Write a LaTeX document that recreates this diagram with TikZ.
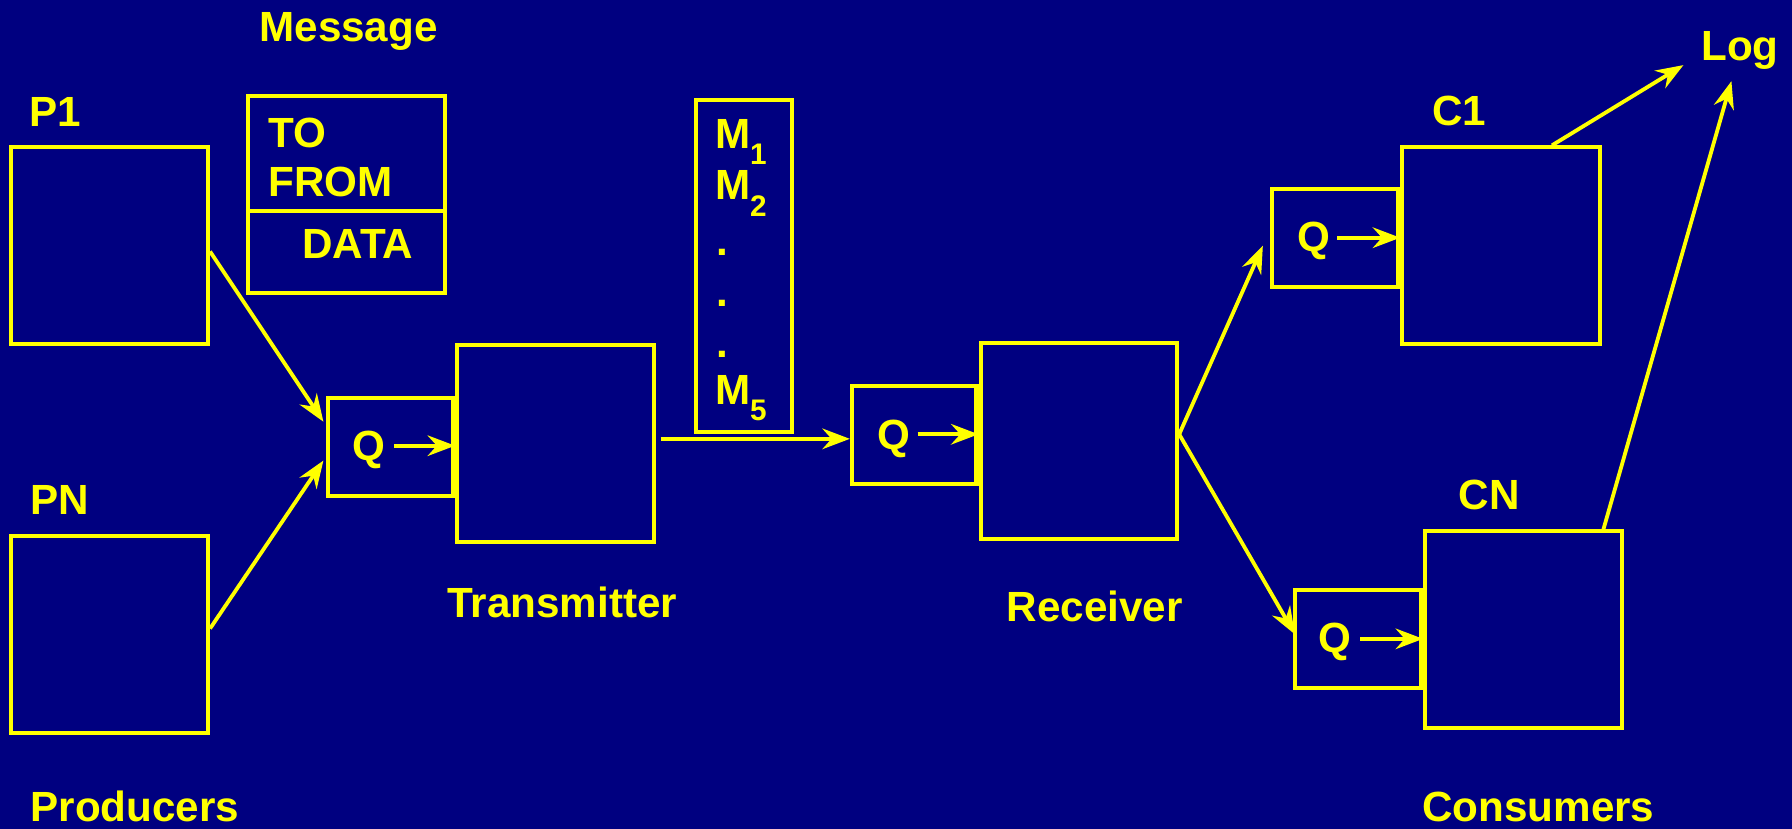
\documentclass[tikz,border=0pt]{standalone}
\usepackage{fontspec}
\setmainfont{Liberation Sans}
\usetikzlibrary{arrows.meta}
\definecolor{bg}{HTML}{000080}
\definecolor{yl}{HTML}{FFFF00}
\newcommand{\subn}[1]{\raisebox{-4pt}{\fontsize{7.4}{8}\selectfont #1}}
\begin{document}
\begin{tikzpicture}[x=0.01cm,y=-0.01cm,
  box/.style={draw=yl,line width=1pt,minimum width=1.72cm,minimum height=1.72cm,inner sep=0pt},
  qbox/.style={draw=yl,line width=1pt,minimum width=1.09cm,minimum height=0.86cm,inner sep=0pt},
  lbl/.style={text=yl,font=\fontsize{10.5}{12.5}\selectfont\bfseries,inner sep=0pt,anchor=base},
  arr/.style={draw=yl,line width=0.95pt,-{Stealth[length=0.24cm,width=0.18cm,inset=0.08cm]}},
  ln/.style={draw=yl,line width=1pt}]
\fill[bg] (0,0) rectangle (1568,725);
\useasboundingbox (0,0) rectangle (1568,725);
% producers
\node[box] (P1) at (96,215) {};
\node[box] (PN) at (96,555) {};
\node[lbl] (P1l) at (48,111) {P1};
\node[lbl] (PNl) at (52,450) {PN};
\node[lbl] (Prod) at (118,719) {Producers};
% message
\node[lbl] (Msgl) at (305,36) {Message};
\node[box] (Msg) at (303,170) {};
\draw[ln] (Msg.west |- 0,185) -- (Msg.east |- 0,185);
\node[lbl,anchor=base west] (TO) at (234,129) {TO};
\node[lbl,anchor=base west] (FROM) at (234,172) {FROM};
\node[lbl] (DATA) at (313,226) {DATA};
% transmitter
\node[box] (T) at (486,388) {};
\node[qbox,anchor=east] (TQ) at (T.west |- 0,391) {};
\node[lbl] (TQt) at (323,403) {Q};
\coordinate (tqa) at (345,390);
\draw[arr] (tqa) -- (T.west |- tqa);
\node[lbl] (Tl) at (492,540) {Transmitter};
\coordinate (tq1) at (283,369);
\coordinate (tq2) at (283,403);
\draw[arr] ([yshift=-0.05cm]P1.east) -- (tq1);
\draw[arr] ([yshift=0.05cm]PN.east) -- (tq2);
% message list
\node[draw=yl,line width=1pt,minimum width=0.84cm,minimum height=2.90cm,inner sep=0pt] (ML) at (651,233) {};
\node[lbl,anchor=base west] (M1) at (625,130) {M\subn{1}};
\node[lbl,anchor=base west] (M2) at (625,175) {M\subn{2}};
\node[lbl,anchor=base west] (d1) at (626,224) {.};
\node[lbl,anchor=base west] (d2) at (626,268) {.};
\node[lbl,anchor=base west] (d3) at (626,313) {.};
\node[lbl,anchor=base west] (M5) at (625,354) {M\subn{5}};
% receiver
\node[box] (R) at (944,386) {};
\node[qbox,anchor=east] (RQ) at (R.west |- 0,380.5) {};
\node[lbl] (RQt) at (782,393) {Q};
\coordinate (rqa) at (803,380);
\draw[arr] (rqa) -- (R.west |- rqa);
\node[lbl] (Rl) at (958,544) {Receiver};
\coordinate (tout) at (578,384);
\draw[arr] (tout) -- (RQ.west |- tout);
% consumers
\node[box,minimum width=1.73cm] (C1) at (1313.5,215) {};
\node[qbox,minimum width=1.10cm,anchor=east] (C1Q) at (C1.west |- 0,208) {};
\node[lbl] (C1Qt) at (1150,220) {Q};
\coordinate (c1a) at (1170,208);
\draw[arr] (c1a) -- (C1.west |- c1a);
\node[lbl] (C1l) at (1277,110) {C1};
\node[box] (CN) at (1333,551) {};
\node[qbox,minimum width=1.10cm,anchor=east] (CNQ) at (CN.west |- 0,559) {};
\node[lbl] (CNQt) at (1168,571) {Q};
\coordinate (cna) at (1190,559);
\draw[arr] (cna) -- (CN.west |- cna);
\node[lbl] (CNl) at (1303,446) {CN};
\node[lbl] (Cons) at (1346,719) {Consumers};
\coordinate (rc1) at (1105,215);
\coordinate (rc2) at (1133,555);
\draw[arr] ([yshift=0.06cm]R.east) -- (rc1);
\draw[arr] ([yshift=0.06cm]R.east) -- (rc2);
% log
\node[lbl,anchor=base west] (Log) at (1488,53) {Log};
\coordinate (lg1) at (1473,57);
\coordinate (lg2) at (1515,71);
\draw[arr] (C1.north -| 1358,0) -- (lg1);
\draw[arr] (CN.north -| 1403,0) -- (lg2);
\end{tikzpicture}
\end{document}
